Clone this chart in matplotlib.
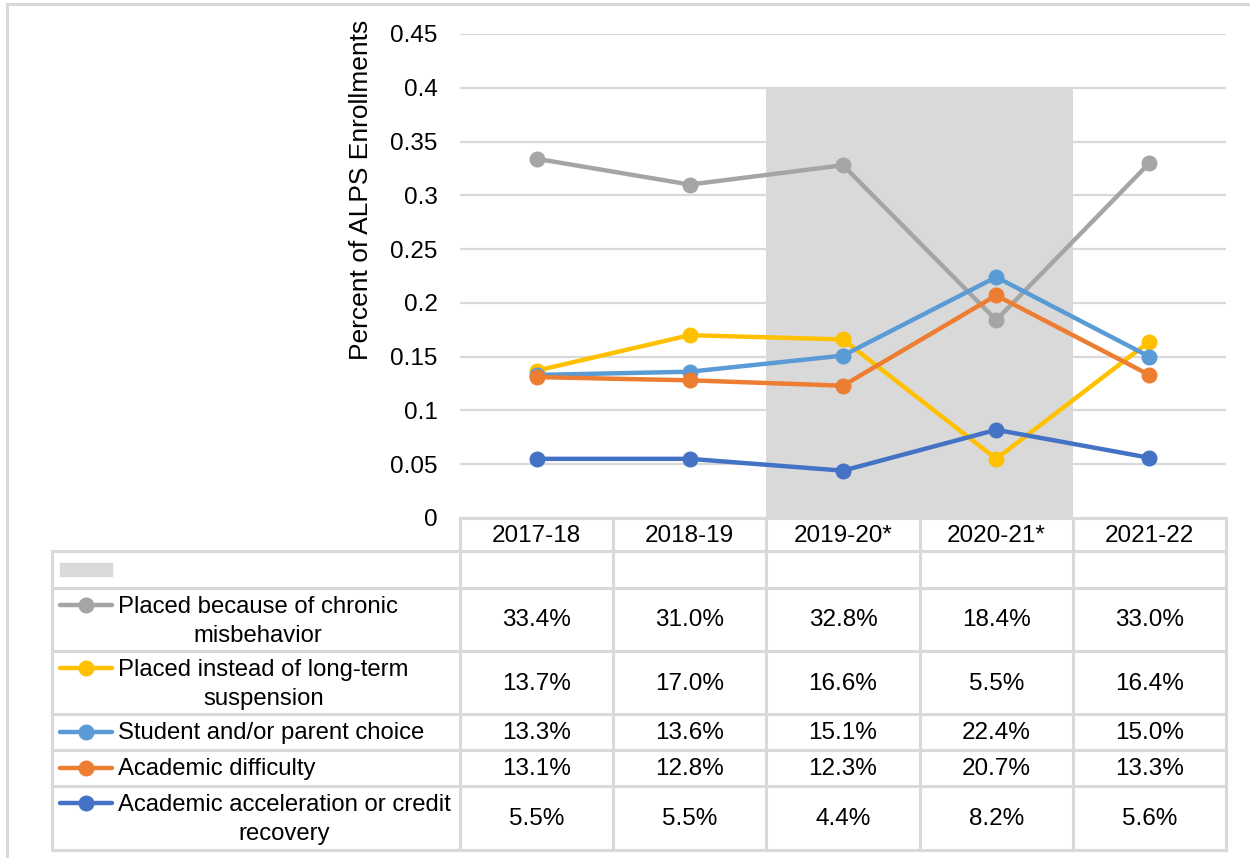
import numpy as np
import matplotlib.pyplot as plt
from matplotlib.patches import Rectangle

plt.rcParams['font.family'] = ['Liberation Sans', 'DejaVu Sans']

# School years and reasons for ALPS placement (percent of enrollments)
years = ["2017-18", "2018-19", "2019-20*", "2020-21*", "2021-22"]
reasons = [
    "Placed because of chronic\nmisbehavior",
    "Placed instead of long-term\nsuspension",
    "Student and/or parent choice",
    "Academic difficulty",
    "Academic acceleration or credit\nrecovery",
]
chronic = [33.4, 31.0, 32.8, 18.4, 33.0]
suspension = [13.7, 17.0, 16.6, 5.5, 16.4]
choice = [13.3, 13.6, 15.1, 22.4, 15.0]
difficulty = [13.1, 12.8, 12.3, 20.7, 13.3]
acceleration = [5.5, 5.5, 4.4, 8.2, 5.6]
colors = ["#A5A5A5", "#FFC000", "#5B9BD5", "#ED7D31", "#4472C4"]

# pandemic years highlighted with a shaded column series
shade = [np.nan, np.nan, 0.4, 0.4, np.nan]

series = [chronic, suspension, choice, difficulty, acceleration]

W, H = 1250, 858
fig = plt.figure(figsize=(12.5, 8.58), dpi=100)

grid_c = "#D9D9D9"
fs = 17.5       # ticks and table values
fs_key = 17.2   # row labels of the table

# plot area in pixel terms
left, right, top, bottom = 460, 1226, 34, 518
ax = fig.add_axes([left / W, 1 - bottom / H, (right - left) / W, (bottom - top) / H])
x = np.arange(len(years))
ax.set_xlim(-0.5, len(years) - 0.5)
ax.set_ylim(0, 0.45)
ax.set_yticks(np.arange(0, 0.451, 0.05))
ax.set_yticklabels(["0", "0.05", "0.1", "0.15", "0.2", "0.25", "0.3", "0.35", "0.4", "0.45"])
ax.tick_params(axis='y', length=0, pad=16, labelsize=fs)
ax.set_xticks([])
for s in ax.spines.values():
    s.set_visible(False)
ax.grid(axis='y', color=grid_c, linewidth=1.6, zorder=0)
ax.set_axisbelow(True)

ax.bar(x, shade, width=1.0, color=grid_c, zorder=1)
for vals, c in zip(series, colors):
    ax.plot(x, np.array(vals) / 100, color=c, linewidth=3.2, marker='o',
            markersize=10.5, zorder=3, solid_capstyle='round')

fig.text(361 / W, 1 - 190 / H, "Percent of ALPS Enrollments", rotation=90,
         ha='center', va='center', fontsize=19)

# data table drawn in pixel coordinates underneath the plot
tb = fig.add_axes([0, 0, 1, 1])
tb.set_xlim(0, W)
tb.set_ylim(H, 0)
tb.axis('off')
tb.patch.set_alpha(0)

lc = dict(color=grid_c, linewidth=2.2, zorder=1)
# outer frame of the chart
tb.plot([7, 7], [4, H], **lc)
tb.plot([7, W], [4, 4], **lc)

tab_left = 52
col_edges = np.linspace(left, right, len(years) + 1)
row_edges = [518, 551, 588, 651, 714, 750, 786, 850]

tb.plot([left, right], [row_edges[0], row_edges[0]], **lc)
for y in row_edges[1:]:
    tb.plot([tab_left, right], [y, y], **lc)
for xc in col_edges:
    tb.plot([xc, xc], [row_edges[0], row_edges[-1]], **lc)
tb.plot([tab_left, tab_left], [row_edges[1], row_edges[-1]], **lc)

# header row with the school years
for i, yr in enumerate(years):
    xc = (col_edges[i] + col_edges[i + 1]) / 2
    tb.text(xc, (row_edges[0] + row_edges[1]) / 2 + 1, yr, ha='center', va='center', fontsize=fs)

# legend key for the shaded series
tb.add_patch(Rectangle((60, 563), 52, 13, color=grid_c, zorder=2))

for r, (label, vals, c) in enumerate(zip(reasons, series, colors)):
    y0, y1 = row_edges[r + 2], row_edges[r + 3]
    two_lines = "\n" in label
    key_y = y0 + 17 if two_lines else (y0 + y1) / 2
    tb.plot([60, 112], [key_y, key_y], color=c, linewidth=3.2, solid_capstyle='round', zorder=3)
    tb.plot([86], [key_y], marker='o', color=c, markersize=10.5, zorder=3)
    if two_lines:
        tb.text(118, key_y - 9, label, ha='left', va='top', multialignment='center',
                fontsize=fs_key, linespacing=1.4)
    else:
        tb.text(118, key_y + 1, label, ha='left', va='center', fontsize=fs_key)
    for i, v in enumerate(vals):
        xc = (col_edges[i] + col_edges[i + 1]) / 2
        tb.text(xc, (y0 + y1) / 2 + 1, f"{v:.1f}%", ha='center', va='center', fontsize=fs)

fig.savefig("out.png", dpi=100, facecolor='white')
